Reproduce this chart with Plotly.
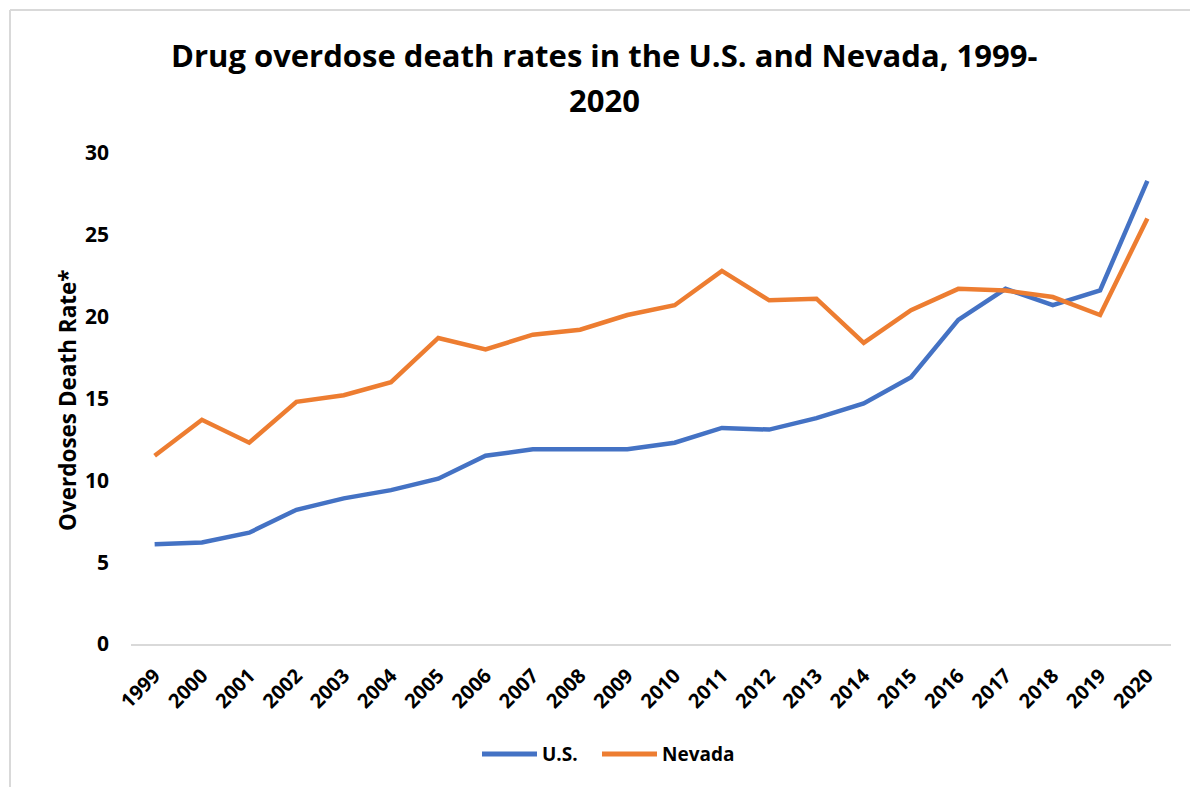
import plotly.graph_objects as go

# Overdose death rates per 100,000, 1999-2020
years = [str(y) for y in range(1999, 2021)]
us_rate = [6.1, 6.2, 6.8, 8.2, 8.9, 9.4, 10.1, 11.5, 11.9, 11.9, 11.9, 12.3,
           13.2, 13.1, 13.8, 14.7, 16.3, 19.8, 21.7, 20.7, 21.6, 28.3]
nevada_rate = [11.5, 13.7, 12.3, 14.8, 15.2, 16.0, 18.7, 18.0, 18.9, 19.2, 20.1, 20.7,
               22.8, 21.0, 21.1, 18.4, 20.4, 21.7, 21.6, 21.2, 20.1, 26.0]
y_ticks = [0, 5, 10, 15, 20, 25, 30]
series_names = ["U.S.", "Nevada"]

FONT = "Open Sans"
BLUE = "#4472C4"
ORANGE = "#ED7D31"
GRID = "#D9D9D9"

# figure geometry in pixels, used to place the hand-drawn legend and title
W, H = 1190, 787
L, R, T, B = 131, 19, 153, 143
PW, PH = W - L - R, H - T - B


def px(xp):
    return (xp - L) / PW


def py(yp):
    return (H - B - yp) / PH


fig = go.Figure()
fig.add_trace(go.Scatter(x=years, y=us_rate, name=series_names[0], mode="lines",
                         line=dict(color=BLUE, width=4.5), showlegend=False))
fig.add_trace(go.Scatter(x=years, y=nevada_rate, name=series_names[1], mode="lines",
                         line=dict(color=ORANGE, width=4.5), showlegend=False))

annotations = [
    dict(text="Drug overdose death rates in the U.S. and Nevada, 1999-",
         xref="paper", yref="paper", x=px(604), y=py(55),
         xanchor="center", yanchor="middle", showarrow=False,
         font=dict(size=31, family=FONT, weight="bold")),
    dict(text="2020",
         xref="paper", yref="paper", x=px(604), y=py(100),
         xanchor="center", yanchor="middle", showarrow=False,
         font=dict(size=31, family=FONT, weight="bold")),
    dict(text="Overdoses Death Rate*", textangle=-90,
         xref="paper", yref="paper", x=px(67), y=py(400),
         xanchor="center", yanchor="middle", showarrow=False,
         font=dict(size=22.5, family=FONT, weight="bold")),
]

shapes = [
    # chart-area border (top and left edges)
    dict(type="line", xref="paper", yref="paper", x0=px(10), x1=px(W + 5),
         y0=py(10), y1=py(10), line=dict(color=GRID, width=2)),
    dict(type="line", xref="paper", yref="paper", x0=px(10), x1=px(10),
         y0=py(10), y1=py(H + 5), line=dict(color=GRID, width=2)),
]

# legend: coloured line sample followed by the series name
legend_items = [(series_names[0], BLUE, 482), (series_names[1], ORANGE, 602)]
for name, color, x0 in legend_items:
    shapes.append(dict(type="line", xref="paper", yref="paper",
                       x0=px(x0), x1=px(x0 + 55), y0=py(754), y1=py(754),
                       line=dict(color=color, width=5)))
    annotations.append(dict(text=name, xref="paper", yref="paper",
                            x=px(x0 + 58), y=py(754), xanchor="left", yanchor="middle",
                            showarrow=False,
                            font=dict(size=19, family=FONT, weight="bold")))

fig.update_layout(
    width=W, height=H,
    margin=dict(l=L, r=R, t=T, b=B),
    paper_bgcolor="white", plot_bgcolor="white",
    font=dict(family=FONT, color="black"),
    showlegend=False,
    xaxis=dict(type="category", range=[-0.5, len(years) - 0.5],
               showgrid=False, zeroline=False,
               showline=True, linecolor=GRID, linewidth=2,
               ticks="", tickangle=-45, ticklabelstandoff=10,
               tickfont=dict(size=20, family=FONT, weight="bold")),
    yaxis=dict(range=[0, 30], tickvals=y_ticks, showgrid=False, zeroline=False,
               showline=False, ticks="", ticklabelstandoff=21,
               tickfont=dict(size=21, family=FONT, weight="bold")),
    annotations=annotations,
    shapes=shapes,
)

fig.write_html("out.html")
